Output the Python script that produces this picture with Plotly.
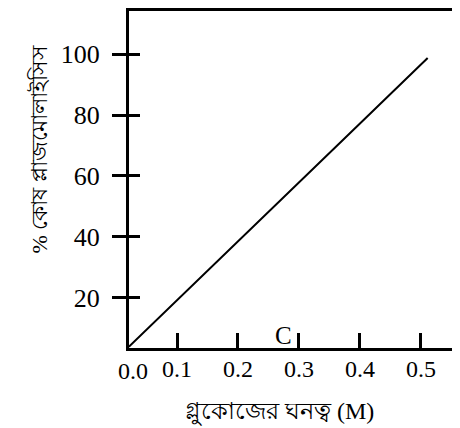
import plotly.graph_objects as go

# data
conc = [0.021, 0.1, 0.2, 0.3, 0.4, 0.511]
plasmolysis = [4.0, 19.2, 38.5, 57.8, 77.2, 98.7]
x_ticks = [0.1, 0.2, 0.3, 0.4, 0.5]
x_ticktext = ["0.1", "0.2", "0.3", "0.4", "0.5"]
y_ticks = [20, 40, 60, 80, 100]
x_title = "গ্লুকোজের ঘনত্ব (M)"
y_title = "% কোষ প্লাজমোলাইসিস"
marker_label = "C"
marker_pos = (0.274, 4.0)

x_range = [0.0213, 0.564]
y_range = [3.6, 114.1]

serif = "Liberation Serif, Times New Roman, serif"

fig = go.Figure()
fig.add_trace(go.Scatter(x=conc, y=plasmolysis, mode="lines",
                         line=dict(color="black", width=2), showlegend=False,
                         hoverinfo="skip"))
# overlay trace for inside y ticks
fig.add_trace(go.Scatter(x=[conc[0]], y=[plasmolysis[0]], yaxis="y2", mode="markers",
                         marker=dict(size=0.1, opacity=0), showlegend=False, hoverinfo="skip"))

# page body has an 8px margin, so the figure is 8px smaller than the window
fig.update_layout(
    width=452, height=420,
    margin=dict(l=121, r=0, t=3, b=80),
    paper_bgcolor="white", plot_bgcolor="white",
    font=dict(family=serif, color="black"),
    xaxis=dict(range=x_range, tickvals=x_ticks, ticktext=x_ticktext,
               ticks="inside", ticklen=15, tickwidth=2.5, tickcolor="black",
               showline=True, linewidth=3, linecolor="black", mirror=True,
               showgrid=False, zeroline=False, ticklabelstandoff=-3,
               tickfont=dict(size=24, family=serif)),
    yaxis=dict(range=y_range, tickvals=y_ticks,
               ticks="outside", ticklen=14, tickwidth=3, tickcolor="black",
               showline=True, linewidth=3, linecolor="black",
               showgrid=False, zeroline=False,
               tickfont=dict(size=26, family=serif), ticklabelstandoff=7),
    yaxis2=dict(range=y_range, tickvals=y_ticks, overlaying="y", side="left",
                ticks="inside", ticklen=11, tickwidth=3, tickcolor="black",
                showticklabels=False, showline=False, showgrid=False, zeroline=False),
)

x0_frac = (0 - x_range[0]) / (x_range[1] - x_range[0])
fig.add_annotation(x=x0_frac, xref="paper", y=y_range[0], yref="y",
                   text="0.0", showarrow=False, yanchor="top", yshift=-8,
                   font=dict(size=24, family=serif))
fig.add_annotation(x=marker_pos[0], y=marker_pos[1], text=marker_label,
                   showarrow=False, yanchor="bottom", yshift=-4,
                   font=dict(size=25, family=serif))
fig.add_annotation(x=0.455, xref="paper", y=-0.19, yref="paper",
                   text=x_title, showarrow=False, yanchor="middle",
                   font=dict(size=24, family=serif))
fig.add_annotation(x=-0.314, xref="paper", y=0.588, yref="paper",
                   text=y_title, showarrow=False, textangle=-90,
                   font=dict(size=22, family=serif))

fig.write_html("out.html")
